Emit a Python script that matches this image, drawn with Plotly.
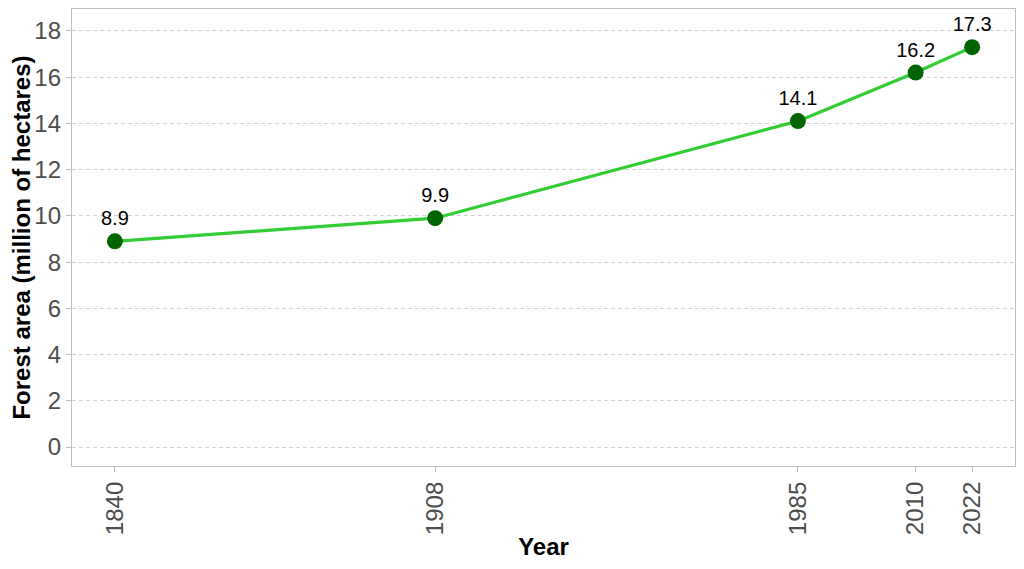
import plotly.graph_objects as go

# Forest area data
years = [1840, 1908, 1985, 2010, 2022]
forest_area = [8.9, 9.9, 14.1, 16.2, 17.3]
y_ticks = [0, 2, 4, 6, 8, 10, 12, 14, 16, 18]

line = go.Scatter(
    x=years, y=forest_area, mode='lines',
    line=dict(color='#32CD32', width=3.2),
    hoverinfo='skip', showlegend=False)
points = go.Scatter(
    x=years, y=forest_area, mode='markers+text',
    marker=dict(color='#006400', size=16),
    text=[str(v) for v in forest_area], textposition='top center',
    textfont=dict(family='Liberation Sans, Arial', size=20, color='black'),
    showlegend=False)

# page body adds an 8px offset, so margins are shifted to compensate
layout = go.Layout(
    width=1024, height=569,
    paper_bgcolor='white', plot_bgcolor='white',
    margin=dict(l=64, r=17, t=1, b=111),
    font=dict(family='Liberation Sans, Arial'),
    xaxis=dict(
        title=dict(text='<b>Year</b>', font=dict(size=24, color='black'), standoff=4),
        range=[1830.9, 2031.1], tickvals=years, tickangle=-90,
        tickfont=dict(size=24, color='#4D4D4D'),
        showgrid=False, zeroline=False,
        showline=True, linecolor='#BEBEBE', linewidth=1.3, mirror=True,
        ticks='outside', ticklen=5, tickcolor='#BEBEBE'),
    yaxis=dict(
        title=dict(text='<b>Forest area (million of hectares)</b>', font=dict(size=24, color='black'), standoff=8),
        range=[-0.82, 18.95], tickvals=y_ticks,
        tickfont=dict(size=24, color='#4D4D4D'),
        showgrid=True, gridcolor='#D3D3D3', griddash='4px,3px', gridwidth=1,
        zeroline=False,
        showline=True, linecolor='#BEBEBE', linewidth=1.3, mirror=True,
        ticks='outside', ticklen=5, tickcolor='#BEBEBE'))

fig = go.Figure(data=[line, points], layout=layout)
fig.write_html('out.html')
